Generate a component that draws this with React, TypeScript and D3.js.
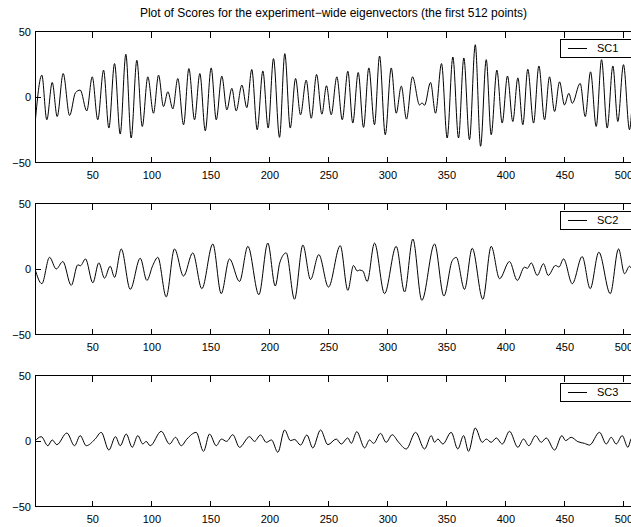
import React from "react";
import * as d3 from "d3";

const TITLE = "Plot of Scores for the experiment\u2212wide eigenvectors (the first 512 points)";
const seriesNames = ["SC1", "SC2", "SC3"];
const xTicks = [50, 100, 150, 200, 250, 300, 350, 400, 450, 500];
const yTicks = [-50, 0, 50];
const xDomain = [1, 512];
const yDomain = [-50, 50];

// Local extrema (sample index, score)
const sc1: [number, number][] = [
  [1, -21], [6.8, 16.7], [11, -17.4], [15.6, 11.1], [19.8, -14.9], [24.9, 17.9], [30.3, -14.1],
  [35.3, 3.3], [39.3, 5.3], [44.9, -10.6], [49.5, 15.4], [54.2, -17.4], [59.1, 20.5], [63.6, -23.7],
  [68.4, 25.5], [73.2, -28.3], [78, 32.6], [82.5, -31.3], [87.3, 28], [91.9, -22.5], [96.6, 15.4],
  [101.4, -12.4], [105.7, 16.7], [109.9, -7.3], [113.6, 4], [117.8, -9.1], [122, 14.1], [126.9, -21.2],
  [131.4, 21.7], [136.2, -17.4], [140.7, 17.9], [145.3, -25.8], [150.3, 22.2], [154.6, -17.4],
  [159.3, 16], [163.6, -9.8], [167.8, 6.6], [171.5, -10.6], [176.3, 9.1], [180.5, -8.1], [184.7, 21],
  [189.3, -25], [194.1, 19.9], [198.6, -23.7], [203.1, 29.3], [208.2, -30.8], [212.7, 33.1],
  [217.3, -23.7], [221.8, 14.1], [226, -13.6], [230.8, 12.9], [235.1, -16.2], [239.6, 17.2],
  [244.1, -13.1], [248, 8.6], [252, -13.6], [256.8, 15.4], [261.4, -17.4], [266.1, 19.7],
  [270.3, -19.9], [274.9, 18.7], [279.4, -23.2], [283.9, 22.2], [288.7, -21.2], [293, 31.3],
  [297.8, -28.8], [302.9, 22.2], [307.1, -12.4], [311.4, 8.3], [315.8, -16.9], [320.9, 15.4],
  [326.9, -6.1], [329, -4.5], [331.1, -6.3], [336.2, 11.1], [340.4, -12.4], [345.5, 25.5],
  [350.3, -31.3], [355.1, 30.5], [359.9, -31.3], [364.4, 29.8], [369.2, -32.6], [374.1, 39.9],
  [378.6, -37.6], [383.4, 28.5], [387.6, -28.8], [392.4, 20.5], [396.9, -19.9], [401.4, 16],
  [405.9, -18.7], [410.2, 14.6], [414.4, -21.2], [418.6, 21.2], [423.5, -19.9], [428, 23.7],
  [432.8, -17.4], [437, 15.4], [441.3, -11.1], [445.5, 11.6], [449.7, -6.1], [453.4, 2.8],
  [456.3, -4.8], [463, 10.4], [467.3, -15], [471.8, 19.2], [476.6, -22.5], [481.1, 28.5],
  [485.9, -23.7], [490.7, 23.7], [494.9, -18.7], [499.7, 24.7], [504.8, -25], [509.5, 20], [512, 8],
];

const sc2: [number, number][] = [
  [1, 0], [6.8, -11.2], [13.3, 8.9], [19, 0], [24.6, 5.7], [31.7, -12.5], [37.3, 3.2], [39.5, 2.5],
  [43.8, 7.7], [50, -10.5], [55.1, 4.7], [59.9, -7], [64.7, 2.1], [68.4, -6.3], [74.1, 15.3],
  [81.7, -15.5], [90.2, 8.2], [95.8, -8.7], [100.8, 2.7], [105.1, 8.9], [112.2, -21.3], [119.2, 15.3],
  [126.9, -5.4], [134.7, 12.3], [142.4, -15], [151.7, 19.1], [158.8, -18.8], [165.8, 7.7],
  [174.3, -9.5], [181.4, 17.3], [190.7, -19.6], [198.3, 19.8], [204.6, -13], [208.5, 5],
  [213.9, 12.3], [220.9, -23.1], [228, 18.3], [234.5, -8], [241.5, 11], [249.7, -13.8],
  [259.7, 17.8], [266.1, -16.3], [270.9, 2.7], [274, -1.5], [276, -0.8], [278.8, -1.5],
  [282.5, -9.5], [288.7, 19.8], [297.2, -18.8], [307.1, 17.3], [314.2, -17.5], [321.2, 22.9],
  [328.8, -23.9], [339.6, 19.1], [347.5, -20.6], [354.6, 6.4], [358, 8.9], [365, -15.5],
  [371.5, 15.8], [380.5, -23.1], [387.6, 17.3], [394.7, -7.4], [403.1, 5.7], [409.7, -8.7],
  [415.8, 1.4], [418.3, 0.5], [421.5, 4.7], [426.6, -4.9], [431.9, 4], [435.9, -4.9], [442.1, 2.7],
  [445, 1.5], [448.9, 7.7], [456.3, -11.2], [464.7, 9.5], [471.5, -15], [478.8, 12.8],
  [488.5, -18.8], [495.5, 15.3], [500.6, -3.6], [504.8, 2.1], [508, -1], [512, 1],
];

const sc3: [number, number][] = [
  [1, 0], [6.3, 3.3], [11.9, -3.6], [15.6, 0.8], [19.5, -2.8], [28, 6.1], [34.5, -3.6], [39.3, 4.1],
  [44.4, -3.6], [52, 1.5], [57.1, 6.6], [63.6, -6.9], [69.2, 3.3], [73.2, -3.6], [78.3, 5.3],
  [83.4, -4.8], [88.1, 4.1], [92.4, -2.3], [95.2, -0.3], [98.6, -3.6], [108, 7.4], [115, -2.3],
  [120.1, 2.8], [124.9, -3.6], [129.7, 1.5], [137.6, 6.6], [143.8, -7.9], [148.9, 5.3],
  [154.6, -3.6], [159, 1.5], [163.3, -0.3], [168.6, 4.8], [174.3, -4.8], [182.8, 3.3], [187, -0.3],
  [192.1, 4.6], [197, -1], [201.4, 0.8], [206.8, -8.6], [212.5, 8.4], [217.5, 0.3], [221, 1.2],
  [226, -3.1], [231.4, 4.6], [236.4, -5.3], [243, 8.4], [249.2, -2.8], [256.3, 1.5], [260.5, -2.3],
  [266.1, 2.3], [269, -1.8], [273.7, 7.1], [280.3, -5.3], [284.5, 0.8], [287.9, -1.8], [293.8, 5.8],
  [298.6, -1], [303.7, 4.8], [309, -0.8], [315.6, -6.1], [323.5, 6.6], [331.1, -6.1], [336.8, 4.1],
  [339.6, -1], [342.4, 1.5], [346.6, -2.3], [353.7, 6.6], [359.3, -6.1], [364.2, 4.1], [368.4, -7.9],
  [374.1, 9.9], [380, -1], [383.4, 1.5], [387.6, -1], [391.9, 2.3], [397, -2.3], [403.1, 7.4],
  [410.2, -4.8], [415, 1.5], [419.5, -3.6], [425.2, 4.1], [430, -1], [434.2, 2.3], [441.3, -6.9],
  [447.5, 4.1], [450.6, 0.3], [455.4, 2.8], [461, -0.5], [466.6, -1.8], [470.9, -3.1], [479.4, 6.6],
  [485.1, -2.3], [489.3, 2.8], [493.5, -2.3], [498.6, 4.1], [503.4, -4.8], [506.5, 2], [512, 3],
];

const allSeries = [sc1, sc2, sc3];

const W = 631;
const H = 527;
const LEFT = 35;
const RIGHT = 638;
const TOPS = [31.5, 203.5, 375.5];
const PH = 131;
const FONT = "'Liberation Sans', Arial, Helvetica, sans-serif";
const TICK = 6;

export default function App() {
  const x = d3.scaleLinear().domain(xDomain).range([LEFT, RIGHT]);
  return (
    <svg
      width={W}
      height={H}
      style={{ position: "absolute", left: 0, top: 0, background: "#fff" }}
      fontFamily={FONT}
    >
      <rect x={0} y={0} width={W} height={H} fill="#fff" />
      <text x={(LEFT + RIGHT) / 2 - 3} y={17} textAnchor="middle" fontSize={12} fill="#000">
        {TITLE}
      </text>
      {allSeries.map((data, i) => {
        const top = TOPS[i];
        const bottom = top + PH;
        const y = d3.scaleLinear().domain(yDomain).range([bottom, top]);
        const line = d3
          .line<[number, number]>()
          .x((d) => x(d[0]))
          .y((d) => y(d[1]))
          .curve(d3.curveMonotoneX);
        const clipId = `clip${i}`;
        return (
          <g key={i}>
            <defs>
              <clipPath id={clipId}>
                <rect x={LEFT} y={top} width={RIGHT - LEFT} height={PH} />
              </clipPath>
            </defs>
            <path
              d={line(data) || ""}
              fill="none"
              stroke="#000"
              strokeWidth={1}
              clipPath={`url(#${clipId})`}
            />
            <g stroke="#000" strokeWidth={1} shapeRendering="crispEdges">
              <line x1={LEFT} x2={RIGHT} y1={top} y2={top} />
              <line x1={LEFT} x2={RIGHT} y1={bottom} y2={bottom} />
              <line x1={LEFT} x2={LEFT} y1={top} y2={bottom} />
              <line x1={RIGHT} x2={RIGHT} y1={top} y2={bottom} />
              {xTicks.map((t) => (
                <g key={t}>
                  <line x1={x(t)} x2={x(t)} y1={bottom} y2={bottom - TICK} />
                  <line x1={x(t)} x2={x(t)} y1={top} y2={top + TICK} />
                </g>
              ))}
              {yTicks.map((t) => (
                <g key={t}>
                  <line x1={LEFT} x2={LEFT + TICK} y1={y(t)} y2={y(t)} />
                  <line x1={RIGHT} x2={RIGHT - TICK} y1={y(t)} y2={y(t)} />
                </g>
              ))}
            </g>
            {xTicks.map((t) => (
              <text key={t} x={x(t)} y={bottom + 16} textAnchor="middle" fontSize={11} fill="#000">
                {t}
              </text>
            ))}
            {yTicks.map((t) => (
              <text key={t} x={LEFT - 4} y={y(t) + 4} textAnchor="end" fontSize={11} fill="#000">
                {t < 0 ? `\u2212${Math.abs(t)}` : t}
              </text>
            ))}
            <g>
              <rect
                x={560.5}
                y={top + 7.5}
                width={90}
                height={18}
                fill="#fff"
                stroke="#000"
                strokeWidth={1}
                shapeRendering="crispEdges"
              />
              <line
                x1={568}
                x2={587}
                y1={top + 16.5}
                y2={top + 16.5}
                stroke="#000"
                strokeWidth={1}
                shapeRendering="crispEdges"
              />
              <text x={597} y={top + 20.5} fontSize={11} fill="#000">
                {seriesNames[i]}
              </text>
            </g>
          </g>
        );
      })}
    </svg>
  );
}
